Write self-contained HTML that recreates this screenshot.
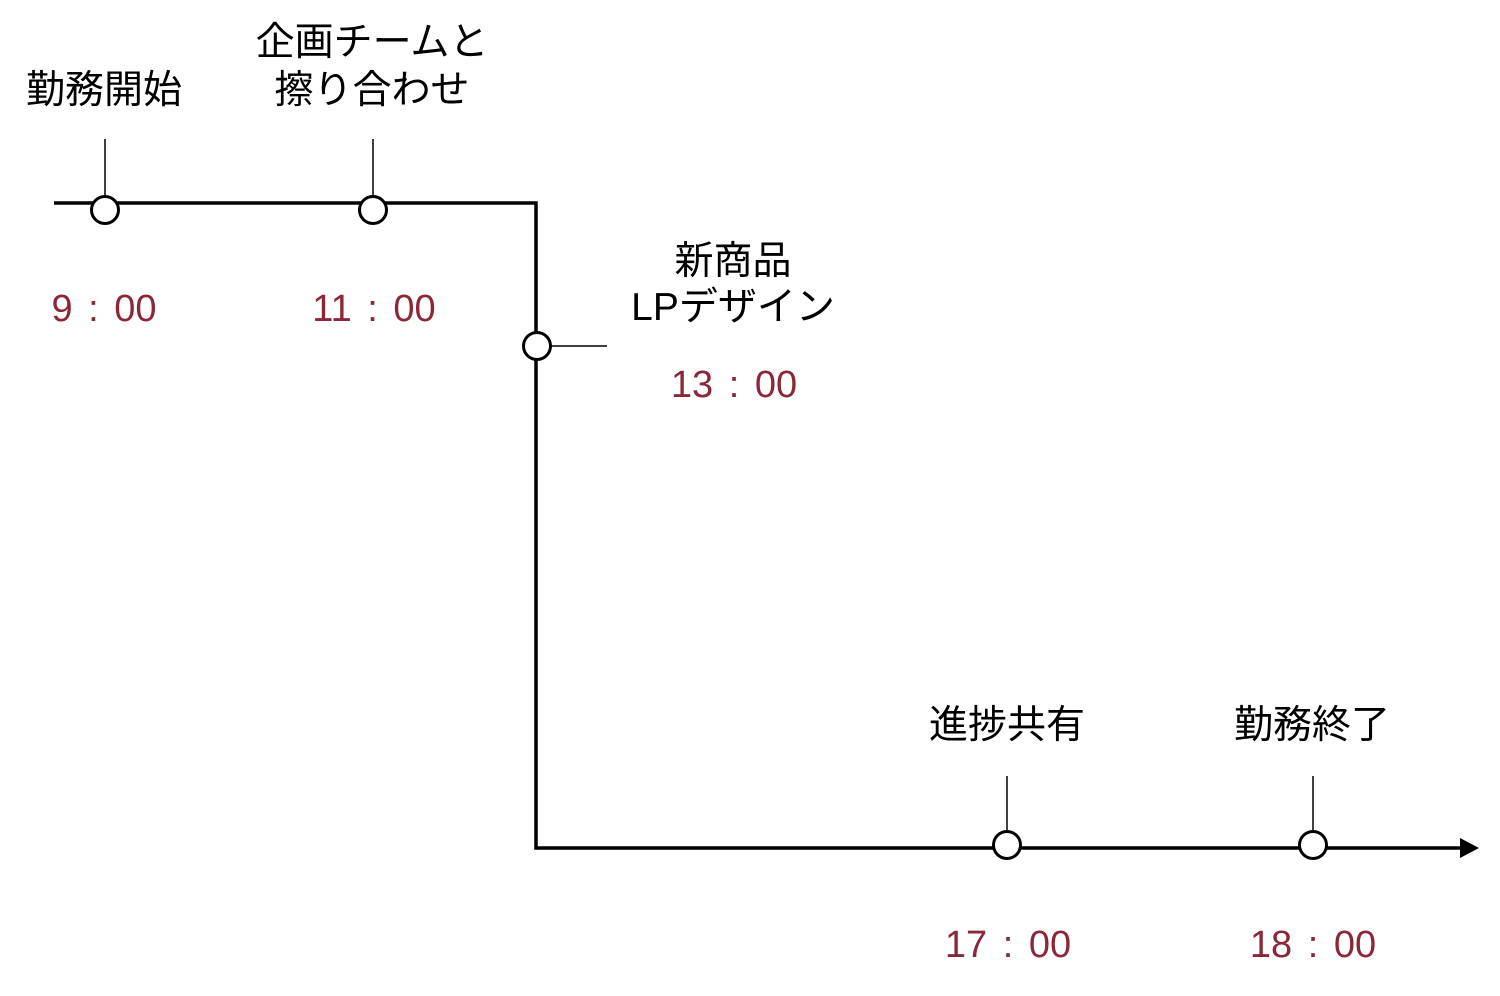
<!DOCTYPE html>
<html><head><meta charset="utf-8"><style>
html,body{margin:0;padding:0;background:#fff;}
svg text{font-family:"Liberation Sans","Noto Sans CJK JP",sans-serif;font-size:39px;text-anchor:middle;}
.t{fill:#8b2838;font-size:38px;word-spacing:5px;}
</style></head><body>
<svg width="1500" height="991" viewBox="0 0 1500 991" xmlns="http://www.w3.org/2000/svg">
<g stroke="#000" fill="none">
<polyline points="54,203 536,203 536,848 1462,848" stroke-width="3.5"/>
<polygon points="1460,838 1479,848 1460,858" fill="#000" stroke="none"/>
<line x1="105" y1="139" x2="105" y2="196" stroke-width="1.5"/>
<line x1="373" y1="139" x2="373" y2="196" stroke-width="1.5"/>
<line x1="551" y1="346" x2="607" y2="346" stroke-width="1.5"/>
<line x1="1007" y1="776" x2="1007" y2="832" stroke-width="1.5"/>
<line x1="1313" y1="776" x2="1313" y2="832" stroke-width="1.5"/>
<g fill="#fff" stroke-width="3">
<circle cx="105" cy="210" r="13.5"/>
<circle cx="373" cy="210" r="13.5"/>
<circle cx="537" cy="346" r="13.5"/>
<circle cx="1007" cy="845" r="13.5"/>
<circle cx="1313" cy="845" r="13.5"/>
</g>
</g>
<text x="104" y="103">勤務開始</text>
<text x="372" y="55">企画チームと</text>
<text x="372" y="103">擦り合わせ</text>
<text x="733" y="274">新商品</text>
<text x="733" y="320">LPデザイン</text>
<text x="1007" y="738">進捗共有</text>
<text x="1312" y="738">勤務終了</text>
<text class="t" x="104" y="321">9 : 00</text>
<text class="t" x="374" y="321">11 : 00</text>
<text class="t" x="734" y="397">13 : 00</text>
<text class="t" x="1008" y="957">17 : 00</text>
<text class="t" x="1313" y="957">18 : 00</text>
</svg>
</body></html>
